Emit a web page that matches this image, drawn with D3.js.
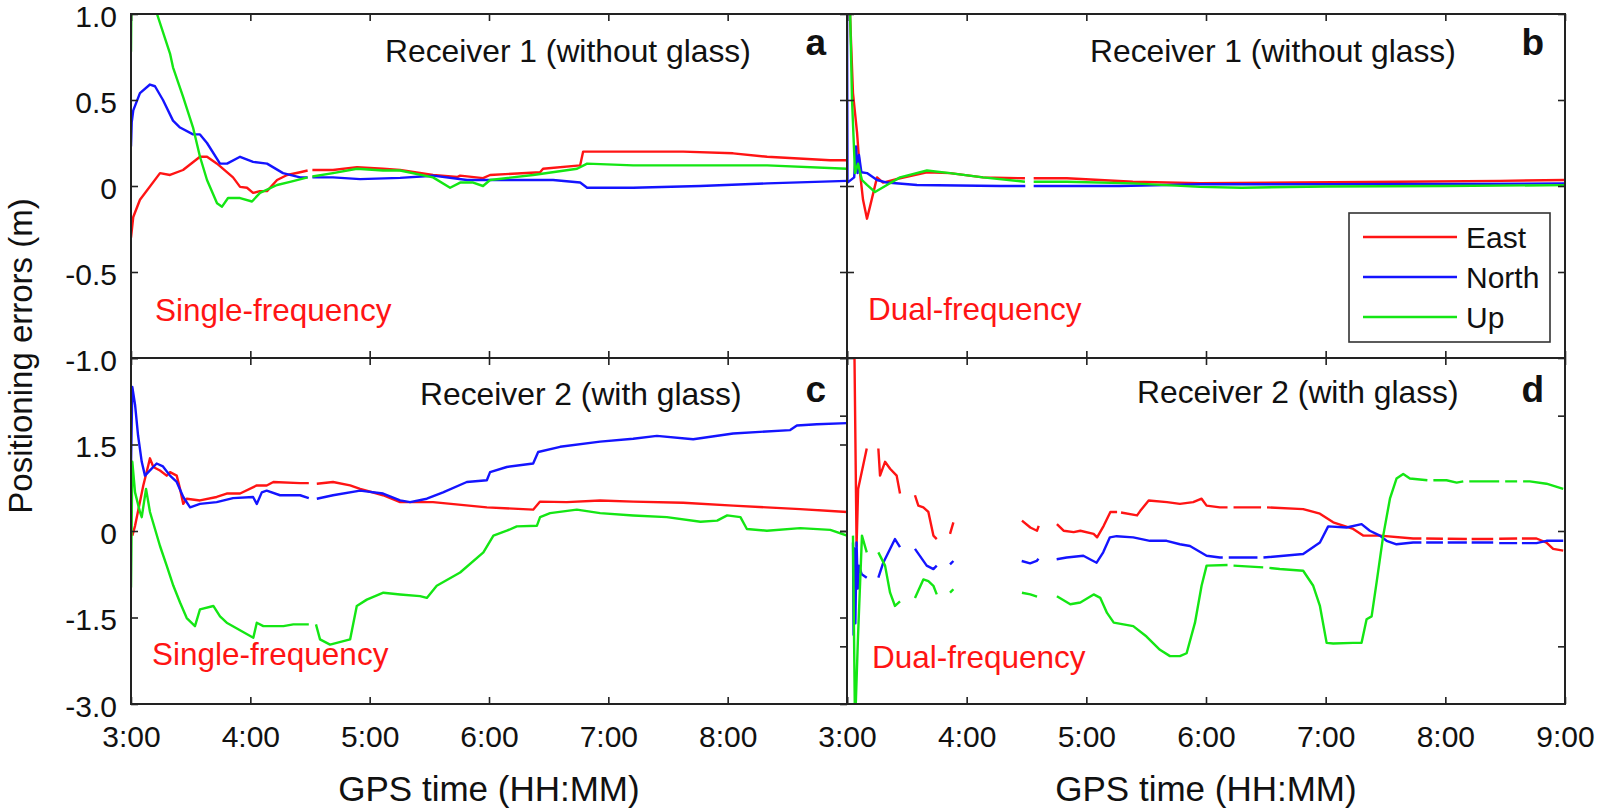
<!DOCTYPE html>
<html><head><meta charset="utf-8">
<script src="https://cdn.jsdelivr.net/npm/d3@7"></script>
<style>
body{margin:0;background:#fff}
svg{display:block}
text{font-family:"Liberation Sans",Arial,Helvetica,sans-serif}
</style>
</head><body>
<svg id="chart" width="1598" height="811"></svg>
<script>
// ---------- ticks / categories ----------
const timeTicks  = [3,4,5,6,7,8,9];
const timeLabels = ["3:00","4:00","5:00","6:00","7:00","8:00","9:00"];
const yTicksTop    = [1, 0.5, 0, -0.5, -1];
const yLabelsTop   = ["1.0","0.5","0","-0.5","-1.0"];
const yTicksBottom = [3, 1.5, 0, -1.5, -3];
const yLabelsBottom= ["", "1.5", "0", "-1.5", "-3.0"];
const yTicksD      = [2, 0, -2];
const seriesNames  = ["East","North","Up"];

// ---------- panel a : Receiver 1, single frequency ----------
const A_east = [[3.0,-0.30],[3.019,-0.18],[3.075,-0.08],[3.243,0.075],[3.327,0.064],[3.436,0.093],[3.578,0.17],[3.637,0.17],[3.721,0.13],[3.855,0.05],[3.914,-0.005],[3.972,-0.01],[4.023,-0.04],[4.08,-0.03],[4.14,-0.03],[4.224,0.035],[4.308,0.064],[4.417,0.08],[4.48,0.09],[4.50,null],[4.52,0.093],[4.693,0.093],[4.894,0.11],[5.112,0.10],[5.255,0.093],[5.531,0.064],[5.733,0.052],[5.758,0.06],[5.95,0.046],[6.009,0.064],[6.428,0.08],[6.453,0.10],[6.764,0.12],[6.789,0.20],[7.074,0.20],[7.627,0.20],[8.046,0.19],[8.331,0.17],[8.859,0.15],[9.0,0.15]];
const A_north = [[3.0,0.23],[3.006,0.37],[3.019,0.44],[3.075,0.54],[3.159,0.59],[3.201,0.58],[3.268,0.50],[3.352,0.38],[3.411,0.34],[3.52,0.30],[3.578,0.30],[3.637,0.25],[3.746,0.13],[3.805,0.13],[3.914,0.17],[4.023,0.14],[4.14,0.13],[4.274,0.075],[4.417,0.05],[4.48,0.05],[4.50,null],[4.52,0.05],[4.693,0.05],[4.92,0.04],[5.255,0.047],[5.531,0.06],[5.816,0.035],[6.093,0.035],[6.537,0.035],[6.764,0.02],[6.822,-0.01],[7.208,-0.01],[7.77,0.0],[8.331,0.015],[9.0,0.03]];
const A_up = [[3.0,0.78],[3.004,1.1],[3.18,1.1],[3.218,1.0],[3.327,0.77],[3.352,0.69],[3.436,0.52],[3.52,0.34],[3.578,0.17],[3.637,0.035],[3.721,-0.10],[3.763,-0.12],[3.813,-0.07],[3.914,-0.07],[4.014,-0.09],[4.081,-0.04],[4.224,0.006],[4.333,0.024],[4.48,0.05],[4.50,null],[4.52,0.055],[4.693,0.075],[4.894,0.10],[5.112,0.09],[5.255,0.09],[5.531,0.05],[5.674,-0.01],[5.758,0.02],[5.867,0.02],[5.95,0.0],[6.009,0.035],[6.37,0.064],[6.738,0.10],[6.822,0.13],[7.208,0.12],[7.77,0.12],[8.331,0.12],[9.0,0.10]];

// ---------- panel b : Receiver 1, dual frequency ----------
const B_east = [[3.0,1.2],[3.025,1.0],[3.05,0.54],[3.084,0.31],[3.109,0.075],[3.134,-0.08],[3.167,-0.19],[3.192,-0.12],[3.251,0.05],[3.301,0.02],[3.443,0.045],[3.668,0.08],[3.861,0.075],[4.136,0.05],[4.487,0.045],[4.52,null],[4.56,0.045],[4.838,0.045],[5.389,0.025],[5.949,0.017],[6.78,0.02],[7.62,0.025],[8.455,0.03],[9.0,0.035]];
const B_north = [[3.0,1.2],[3.004,0.02],[3.06,0.05],[3.075,0.23],[3.088,0.075],[3.10,0.18],[3.12,0.08],[3.167,0.075],[3.251,0.035],[3.334,0.02],[3.585,0.006],[4.28,0.0],[4.49,0.0],[4.52,null],[4.56,0.0],[5.28,0.0],[5.95,0.01],[7.0,0.01],[8.0,0.012],[9.0,0.015]];
const B_up = [[3.0,1.2],[3.025,1.05],[3.042,0.5],[3.067,0.075],[3.092,0.13],[3.125,0.035],[3.167,0.006],[3.234,-0.035],[3.334,0.006],[3.443,0.05],[3.668,0.09],[3.861,0.075],[4.136,0.05],[4.487,0.025],[4.52,null],[4.56,0.025],[4.838,0.025],[5.389,0.015],[5.949,-0.005],[6.3,-0.01],[7.0,-0.003],[8.0,0.0],[9.0,0.005]];

// ---------- panel c : Receiver 2, single frequency ----------
const C_east = [[3.011,-0.08],[3.034,0.09],[3.103,0.79],[3.145,1.14],[3.159,1.26],[3.187,1.11],[3.243,1.05],[3.299,0.96],[3.327,1.02],[3.383,0.96],[3.411,0.73],[3.438,0.47],[3.467,0.56],[3.578,0.53],[3.718,0.59],[3.802,0.65],[3.914,0.65],[4.054,0.79],[4.137,0.79],[4.193,0.85],[4.417,0.83],[4.49,0.83],[4.51,null],[4.557,0.82],[4.693,0.85],[4.836,0.79],[4.92,0.73],[5.112,0.62],[5.255,0.50],[5.531,0.50],[5.982,0.41],[6.37,0.37],[6.428,0.51],[6.652,0.50],[6.931,0.53],[7.208,0.51],[7.627,0.49],[8.046,0.44],[8.608,0.38],[9.0,0.33]];
const C_north = [[3.0,1.14],[3.011,2.5],[3.034,2.19],[3.059,1.66],[3.09,1.20],[3.117,0.96],[3.159,1.05],[3.215,1.17],[3.268,1.12],[3.327,0.96],[3.383,0.85],[3.438,0.59],[3.495,0.41],[3.578,0.47],[3.718,0.50],[3.855,0.57],[4.023,0.59],[4.054,0.47],[4.096,0.67],[4.137,0.70],[4.249,0.62],[4.417,0.62],[4.49,0.57],[4.51,null],[4.557,0.56],[4.693,0.62],[4.92,0.70],[5.112,0.65],[5.255,0.53],[5.339,0.50],[5.479,0.56],[5.615,0.67],[5.814,0.85],[5.982,0.88],[6.009,1.02],[6.149,1.11],[6.37,1.17],[6.412,1.37],[6.596,1.46],[6.931,1.55],[7.208,1.60],[7.407,1.65],[7.711,1.59],[8.046,1.69],[8.524,1.75],[8.58,1.83],[8.748,1.85],[9.0,1.87]];
const C_up = [[3.0,-0.98],[3.011,1.20],[3.034,0.67],[3.075,0.33],[3.09,0.24],[3.126,0.73],[3.159,0.33],[3.243,-0.26],[3.299,-0.60],[3.355,-0.95],[3.411,-1.24],[3.467,-1.51],[3.536,-1.65],[3.578,-1.36],[3.69,-1.30],[3.746,-1.48],[3.802,-1.59],[4.025,-1.85],[4.054,-1.59],[4.109,-1.65],[4.277,-1.65],[4.36,-1.62],[4.49,-1.62],[4.51,null],[4.55,-1.62],[4.584,-1.88],[4.668,-1.97],[4.836,-1.88],[4.892,-1.30],[4.976,-1.19],[5.115,-1.07],[5.255,-1.10],[5.422,-1.13],[5.479,-1.16],[5.562,-0.95],[5.758,-0.72],[5.953,-0.37],[6.037,-0.08],[6.149,0.005],[6.233,0.08],[6.401,0.09],[6.428,0.24],[6.512,0.31],[6.736,0.37],[6.931,0.31],[7.208,0.27],[7.49,0.24],[7.772,0.16],[7.912,0.18],[7.996,0.27],[8.107,0.24],[8.161,0.035],[8.329,0.005],[8.608,0.05],[8.86,0.02],[9.0,-0.08]];

// ---------- panel d : Receiver 2, dual frequency ----------
const D_east = [[3.06,3.5],[3.08,-0.26],[3.093,0.73],[3.165,1.43],[3.21,null],[3.262,1.43],[3.276,0.96],[3.318,1.20],[3.36,1.08],[3.415,0.96],[3.443,0.65],[3.50,null],[3.568,0.62],[3.596,0.44],[3.638,0.41],[3.68,0.33],[3.722,-0.08],[3.75,-0.14],[3.80,null],[3.861,-0.05],[3.889,0.15],[4.20,null],[4.462,0.18],[4.532,0.06],[4.588,0.005],[4.602,0.09],[4.68,null],[4.754,0.12],[4.81,0.005],[4.894,-0.02],[4.95,0.005],[5.061,-0.05],[5.09,-0.11],[5.145,0.09],[5.201,0.33],[5.257,0.33],[5.27,null],[5.29,0.32],[5.424,0.27],[5.451,0.35],[5.521,0.53],[5.674,0.50],[5.782,0.47],[5.893,0.50],[5.963,0.56],[6.005,0.44],[6.116,0.41],[6.18,0.41],[6.20,null],[6.23,0.41],[6.46,0.41],[6.48,null],[6.51,0.41],[6.812,0.38],[6.952,0.30],[7.063,0.15],[7.23,0.035],[7.313,-0.08],[7.453,-0.08],[7.731,-0.13],[7.80,-0.13],[7.81,null],[7.84,-0.13],[7.98,-0.135],[7.99,null],[8.02,-0.135],[8.18,-0.14],[8.19,null],[8.22,-0.14],[8.40,-0.14],[8.41,null],[8.45,-0.135],[8.60,-0.13],[8.61,null],[8.64,-0.13],[8.762,-0.13],[8.845,-0.20],[8.901,-0.31],[8.985,-0.34]];
const D_north = [[3.05,-0.2],[3.055,-1.8],[3.06,-0.3],[3.07,-1.6],[3.08,-0.2],[3.09,-1.0],[3.10,-0.6],[3.123,-0.75],[3.165,-0.81],[3.21,null],[3.262,-0.81],[3.303,-0.55],[3.401,-0.14],[3.443,-0.28],[3.50,null],[3.568,-0.31],[3.666,-0.60],[3.722,-0.66],[3.75,-0.60],[3.80,null],[3.861,-0.58],[3.889,-0.52],[4.20,null],[4.46,-0.52],[4.53,-0.56],[4.585,-0.52],[4.60,-0.48],[4.68,null],[4.752,-0.49],[4.836,-0.46],[4.975,-0.43],[5.03,-0.49],[5.086,-0.55],[5.141,-0.37],[5.197,-0.11],[5.253,-0.09],[5.392,-0.11],[5.531,-0.17],[5.671,-0.17],[5.782,-0.23],[5.866,-0.26],[6.005,-0.43],[6.116,-0.46],[6.14,-0.46],[6.16,null],[6.19,-0.46],[6.43,-0.46],[6.45,null],[6.48,-0.46],[6.812,-0.40],[6.952,-0.20],[7.021,0.08],[7.175,0.06],[7.30,0.12],[7.369,0.005],[7.453,-0.08],[7.509,-0.17],[7.592,-0.23],[7.731,-0.20],[7.80,-0.20],[7.81,null],[7.84,-0.20],[7.98,-0.20],[7.99,null],[8.02,-0.20],[8.18,-0.20],[8.19,null],[8.22,-0.20],[8.40,-0.20],[8.41,null],[8.45,-0.21],[8.60,-0.21],[8.61,null],[8.64,-0.21],[8.762,-0.21],[8.845,-0.17],[8.985,-0.17]];
const D_up = [[3.05,-0.08],[3.067,-3.4],[3.092,-1.83],[3.125,-0.08],[3.165,-0.37],[3.21,null],[3.262,-0.37],[3.318,-0.60],[3.36,-1.07],[3.401,-1.30],[3.443,-1.22],[3.50,null],[3.568,-1.16],[3.638,-0.84],[3.68,-0.87],[3.722,-0.95],[3.75,-1.10],[3.80,null],[3.861,-1.07],[3.889,-1.01],[4.20,null],[4.462,-1.07],[4.532,-1.10],[4.588,-1.14],[4.68,null],[4.754,-1.13],[4.866,-1.27],[4.95,-1.24],[5.061,-1.10],[5.117,-1.16],[5.173,-1.42],[5.229,-1.59],[5.392,-1.65],[5.503,-1.83],[5.615,-2.06],[5.699,-2.17],[5.782,-2.17],[5.838,-2.12],[5.908,-1.59],[5.963,-0.95],[6.005,-0.60],[6.18,-0.59],[6.20,null],[6.23,-0.60],[6.478,-0.63],[6.50,null],[6.53,-0.64],[6.616,-0.66],[6.812,-0.69],[6.896,-0.95],[6.952,-1.30],[7.008,-1.94],[7.063,-1.95],[7.23,-1.94],[7.30,-1.94],[7.342,-1.53],[7.384,-1.48],[7.425,-0.90],[7.481,-0.08],[7.537,0.56],[7.592,0.91],[7.648,0.99],[7.704,0.91],[7.85,0.88],[7.87,null],[7.90,0.88],[8.01,0.88],[8.095,0.84],[8.15,0.86],[8.17,null],[8.20,0.86],[8.288,0.86],[8.45,0.86],[8.47,null],[8.50,0.86],[8.60,0.86],[8.62,null],[8.65,0.86],[8.706,0.86],[8.845,0.82],[8.985,0.73]];

// ---------- drawing ----------
const colors = ["#ff1414", "#1414ff", "#14e614"];
const svg = d3.select("#chart");

const xLeft  = d3.scaleLinear().domain([3,9]).range([131,847]);
const xRight = d3.scaleLinear().domain([3,9]).range([847,1565]);
const yTop   = d3.scaleLinear().domain([-1,1]).range([358,14]);
const yBot   = d3.scaleLinear().domain([-3,3]).range([704,358]);

const panels = [
  {id:"a", x:xLeft,  y:yTop, series:[A_east,A_north,A_up], side:"left",  row:"top",
   title:"Receiver 1 (without glass)", titlePos:[385,62], letterPos:[826,55], mode:"Single-frequency", modePos:[155,321]},
  {id:"b", x:xRight, y:yTop, series:[B_east,B_north,B_up], side:"right", row:"top",
   title:"Receiver 1 (without glass)", titlePos:[1090,62], letterPos:[1544,55], mode:"Dual-frequency", modePos:[868,320]},
  {id:"c", x:xLeft,  y:yBot, series:[C_east,C_north,C_up], side:"left",  row:"bottom",
   title:"Receiver 2 (with glass)", titlePos:[420,405], letterPos:[826,402], mode:"Single-frequency", modePos:[152,665]},
  {id:"d", x:xRight, y:yBot, series:[D_east,D_north,D_up], side:"right", row:"bottom",
   title:"Receiver 2 (with glass)", titlePos:[1137,403], letterPos:[1544,402], mode:"Dual-frequency", modePos:[872,668]}
];

const defs = svg.append("defs");

function styleAxis(g, showText, dy){
  g.select(".domain").remove();
  g.selectAll(".tick line").attr("stroke","#222").attr("stroke-width",1.6);
  const t = g.selectAll(".tick text").attr("font-size",30).attr("fill","#111")
    .attr("font-family","'Liberation Sans',Arial,sans-serif")
    .style("display", showText ? null : "none");
  if (dy) t.attr("dy", dy);
}

panels.forEach(p => {
  const [x0,x1] = p.x.range();
  const [y1,y0] = p.y.range();
  defs.append("clipPath").attr("id","clip-"+p.id)
    .append("rect").attr("x",x0).attr("y",y0).attr("width",x1-x0).attr("height",y1-y0);

  // data lines
  const line = d3.line().defined(d => d[1] !== null)
    .x(d => p.x(d[0])).y(d => p.y(d[1]));
  const lg = svg.append("g").attr("clip-path","url(#clip-"+p.id+")");
  p.series.forEach((s,i) => {
    lg.append("path").datum(s).attr("d",line).attr("fill","none")
      .attr("stroke",colors[i]).attr("stroke-width",2.4)
      .attr("stroke-linejoin","round").attr("stroke-linecap","butt");
  });

  // axes (inward ticks)
  const isTop = p.row === "top";
  const yVals = p.id === "d" ? yTicksD : (isTop ? yTicksTop : yTicksBottom);
  const yLabs = isTop ? yLabelsTop : yLabelsBottom;

  const left = d3.axisLeft(p.y).tickValues(yVals).tickSizeInner(p.id==="d" ? 7 : -7).tickSizeOuter(0).tickPadding(14)
     .tickFormat((d,i) => p.side==="left" ? yLabs[i] : "");
  svg.append("g").attr("transform",`translate(${x0},0)`).call(left).call(g => styleAxis(g, p.side==="left", "0.4em"));

  const right = d3.axisRight(p.y).tickValues(yVals).tickSizeInner(-7).tickSizeOuter(0).tickFormat("");
  svg.append("g").attr("transform",`translate(${x1},0)`).call(right).call(g => styleAxis(g,false));

  const top = d3.axisTop(p.x).tickValues(timeTicks).tickSizeInner(-7).tickSizeOuter(0).tickFormat("");
  svg.append("g").attr("transform",`translate(0,${y0})`).call(top).call(g => styleAxis(g,false));

  const bottom = d3.axisBottom(p.x).tickValues(timeTicks).tickSizeInner(-7).tickSizeOuter(0).tickPadding(22)
     .tickFormat((d,i) => (p.side==="left" && d===9) ? "" : timeLabels[i]);
  svg.append("g").attr("transform",`translate(0,${y1})`).call(bottom).call(g => styleAxis(g, !isTop));

  // frame
  svg.append("rect").attr("x",x0).attr("y",y0).attr("width",x1-x0).attr("height",y1-y0)
    .attr("fill","none").attr("stroke","#222").attr("stroke-width",2);

  // annotations
  svg.append("text").attr("x",p.titlePos[0]).attr("y",p.titlePos[1])
    .attr("font-size",31.8).attr("fill","#111").text(p.title);
  svg.append("text").attr("x",p.letterPos[0]).attr("y",p.letterPos[1])
    .attr("font-size",37).attr("font-weight","bold").attr("text-anchor","end").attr("fill","#111").text(p.id);
  svg.append("text").attr("x",p.modePos[0]).attr("y",p.modePos[1])
    .attr("font-size",31.5).attr("fill","#ff1414").text(p.mode);
});

// legend in panel b
const leg = svg.append("g");
leg.append("rect").attr("x",1349).attr("y",213).attr("width",201).attr("height",129)
  .attr("fill","#fff").attr("stroke","#333").attr("stroke-width",1.6);
seriesNames.forEach((n,i) => {
  const yy = 237 + i*40;
  leg.append("line").attr("x1",1363).attr("x2",1457).attr("y1",yy).attr("y2",yy)
    .attr("stroke",colors[i]).attr("stroke-width",2.4);
  leg.append("text").attr("x",1466).attr("y",yy+11).attr("font-size",30).attr("fill","#111").text(n);
});

// axis titles
svg.append("text").attr("transform","translate(32,356) rotate(-90)").attr("text-anchor","middle")
  .attr("font-size",33).attr("fill","#111").text("Positioning errors (m)");
svg.append("text").attr("x",(xLeft.range()[0]+xLeft.range()[1])/2).attr("y",801).attr("text-anchor","middle")
  .attr("font-size",35).attr("fill","#111").text("GPS time (HH:MM)");
svg.append("text").attr("x",(xRight.range()[0]+xRight.range()[1])/2).attr("y",801).attr("text-anchor","middle")
  .attr("font-size",35).attr("fill","#111").text("GPS time (HH:MM)");
</script>
</body></html>
